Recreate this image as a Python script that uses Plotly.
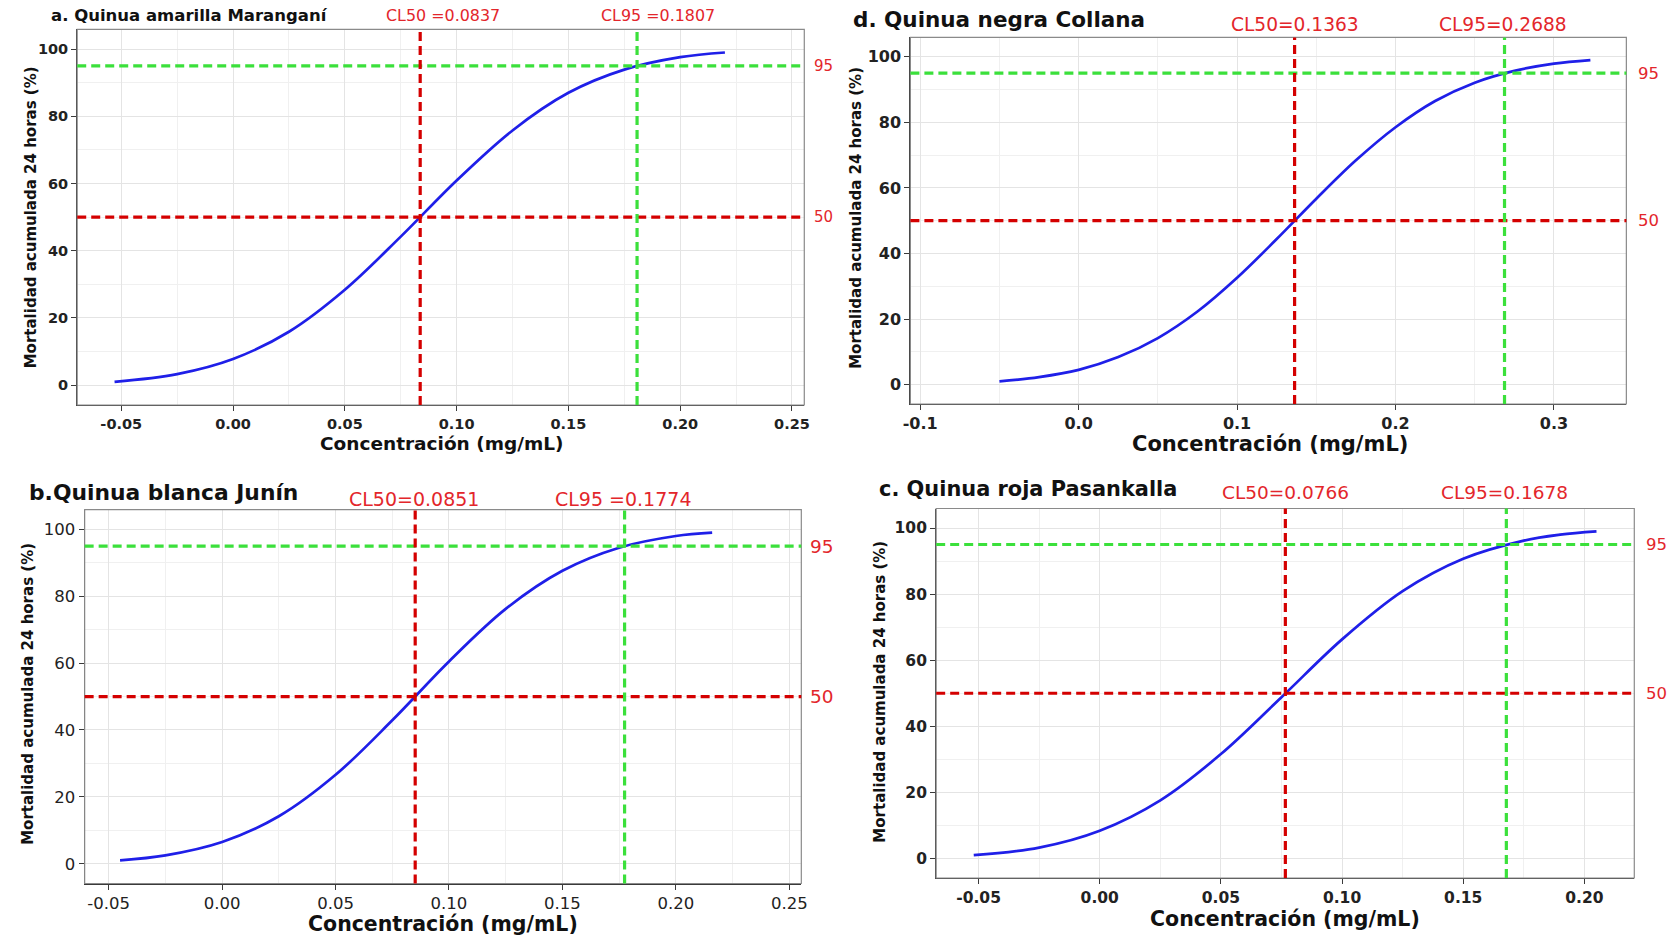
import plotly.graph_objects as go

W, H = 1675, 938

# ---------------- data ----------------
panel_ids = ["a", "d", "b", "c"]
titles = ["a. Quinua amarilla Marangan\u00ed", "d. Quinua negra Collana",
          "b.Quinua blanca Jun\u00edn", "c. Quinua roja Pasankalla"]
cl50 = [0.0837, 0.1363, 0.0851, 0.0766]
cl95 = [0.1807, 0.2688, 0.1774, 0.1678]
cl50_labels = ["CL50 =0.0837", "CL50=0.1363", "CL50=0.0851", "CL50=0.0766"]
cl95_labels = ["CL95 =0.1807", "CL95=0.2688", "CL95 =0.1774", "CL95=0.1678"]
level50 = 50
level95 = 95

conc_a = [-0.053, -0.025, 0.000, 0.025, 0.050, 0.075, 0.100, 0.125, 0.150, 0.175, 0.200, 0.220]
mort_a = [1.0, 3.3, 7.8, 15.9, 28.4, 44.2, 60.9, 75.8, 87.0, 93.9, 97.6, 99.0]

conc_d = [-0.050, -0.025, 0.000, 0.025, 0.050, 0.075, 0.100, 0.125, 0.150, 0.175, 0.200, 0.225, 0.250, 0.275, 0.300, 0.323]
mort_d = [1.0, 2.3, 4.5, 8.4, 14.2, 22.3, 32.6, 44.4, 56.7, 68.4, 78.5, 86.5, 92.1, 95.7, 97.9, 99.0]

conc_b = [-0.045, -0.025, 0.000, 0.025, 0.050, 0.075, 0.100, 0.125, 0.150, 0.175, 0.200, 0.216]
mort_b = [1.0, 2.5, 6.5, 14.2, 26.6, 42.9, 60.5, 76.2, 87.6, 94.5, 98.0, 99.0]

conc_c = [-0.052, -0.025, 0.000, 0.025, 0.050, 0.075, 0.100, 0.125, 0.150, 0.175, 0.190, 0.205]
mort_c = [1.0, 3.3, 8.4, 17.6, 31.6, 48.8, 66.3, 80.9, 90.7, 96.2, 98.0, 99.0]

concs = [conc_a, conc_d, conc_b, conc_c]
morts = [mort_a, mort_d, mort_b, mort_c]

x_ticks_a = [-0.05, 0.00, 0.05, 0.10, 0.15, 0.20, 0.25]
x_labels_a = ["-0.05", "0.00", "0.05", "0.10", "0.15", "0.20", "0.25"]
x_ticks_d = [-0.1, 0.0, 0.1, 0.2, 0.3]
x_labels_d = ["-0.1", "0.0", "0.1", "0.2", "0.3"]
x_ticks_b = [-0.05, 0.00, 0.05, 0.10, 0.15, 0.20, 0.25]
x_labels_b = ["-0.05", "0.00", "0.05", "0.10", "0.15", "0.20", "0.25"]
x_ticks_c = [-0.05, 0.00, 0.05, 0.10, 0.15, 0.20]
x_labels_c = ["-0.05", "0.00", "0.05", "0.10", "0.15", "0.20"]
x_ticks = [x_ticks_a, x_ticks_d, x_ticks_b, x_ticks_c]
x_labels = [x_labels_a, x_labels_d, x_labels_b, x_labels_c]
y_ticks = [0, 20, 40, 60, 80, 100]
y_labels = ["0", "20", "40", "60", "80", "100"]

x_title = "Concentraci\u00f3n (mg/mL)"
y_title = "Mortalidad acumulada 24 horas (%)"

# ---------------- layout / style (page pixel positions) ----------------
boxes = [(69.8, 803, 29.3, 405), (910, 1632, 37.4, 404),
         (77.3, 800, 509.6, 883.5), (936, 1640, 508.5, 878)]
x_ranges = [(-0.0697, 0.2555), (-0.1062, 0.3457), (-0.0606, 0.2553), (-0.0675, 0.2206)]
y_range = (-5.9, 105.9)
x_minor = [0.025, 0.05, 0.025, 0.025]
tick_size = [14.5, 16, 16.5, 15.5]
tick_weight = ["bold", "bold", "normal", "bold"]
title_size = [16.5, 21.5, 21.8, 20.9]
xtitle_size = [18.5, 21, 20.5, 20.5]
cl_size = [15.9, 18.6, 19, 18.5]
lvl_size = [15, 16.5, 18.5, 16.5]

title_pos = [(41.7, 15), (850, 19), (18.8, 492.5), (876, 489)]
ytitle_pos = [(23.5, 217), (855, 218), (20, 694), (879, 692)]
xtitle_pos = [(437.5, 444), (1273, 444), (438.5, 924), (1288, 919)]
cl50_pos = [(438.4, 15.3), (1298, 24.6), (409.7, 499), (1288, 492.5)]
cl95_pos = [(655.3, 15.3), (1508, 24.6), (620, 499), (1509, 492.5)]
lvl_x = [822.6, 1654, 820.5, 1662]

RED_LINE = "#D40000"
GREEN_LINE = "#3BE03B"
RED_TEXT = "#E3262B"
BLUE = "#1F1FE8"
FONT = "DejaVu Sans"


def px(x):
    return x / W


def py(y):
    return 1 - y / H


fig = go.Figure()
annotations = []
shapes = []

for i in range(4):
    n = "" if i == 0 else str(i + 1)
    xa, ya = "x" + n, "y" + n
    left, right, top, bottom = boxes[i]

    fig.add_trace(go.Scatter(
        x=concs[i], y=morts[i], mode="lines", xaxis=xa, yaxis=ya,
        line=dict(color=BLUE, width=2.7, shape="spline", smoothing=1.0),
        showlegend=False, hoverinfo="x+y"))

    axis_common = dict(showline=True, linecolor="#3a3a3a", linewidth=1.3,
                       ticks="outside", ticklen=5, tickcolor="#3a3a3a",
                       showgrid=True, gridcolor="#E4E4E4", gridwidth=1,
                       zeroline=False,
                       tickfont=dict(family=FONT, size=tick_size[i], color="#222",
                                     weight=tick_weight[i]))
    fig.update_layout(**{
        ("xaxis" + n): dict(domain=[px(left), px(right)], range=list(x_ranges[i]),
                            anchor=ya, tickvals=x_ticks[i], ticktext=x_labels[i],
                            minor=dict(dtick=x_minor[i], tick0=0, showgrid=True,
                                       gridcolor="#F0F0F0"),
                            **axis_common),
        ("yaxis" + n): dict(domain=[py(bottom), py(top)], range=list(y_range),
                            anchor=xa, tickvals=y_ticks, ticktext=y_labels,
                            minor=dict(dtick=10, tick0=0, showgrid=True,
                                       gridcolor="#F0F0F0"),
                            **axis_common),
    })

    # panel border
    shapes.append(dict(type="rect", xref=xa + " domain", yref=ya + " domain",
                       x0=0, x1=1, y0=0, y1=1, line=dict(color="#8a8a8a", width=1.2),
                       layer="above"))
    # reference lines
    dash = "9px,5px"
    shapes.append(dict(type="line", xref=xa + " domain", yref=ya, x0=0, x1=1,
                       y0=level50, y1=level50,
                       line=dict(color=RED_LINE, width=3.2, dash=dash)))
    shapes.append(dict(type="line", xref=xa + " domain", yref=ya, x0=0, x1=1,
                       y0=level95, y1=level95,
                       line=dict(color=GREEN_LINE, width=3.2, dash=dash)))
    shapes.append(dict(type="line", xref=xa, yref=ya + " domain", x0=cl50[i], x1=cl50[i],
                       y0=0, y1=1, line=dict(color=RED_LINE, width=3.2, dash=dash)))
    shapes.append(dict(type="line", xref=xa, yref=ya + " domain", x0=cl95[i], x1=cl95[i],
                       y0=0, y1=1, line=dict(color=GREEN_LINE, width=3.2, dash=dash)))

    # texts
    tx, ty = title_pos[i]
    annotations.append(dict(text=titles[i], x=px(tx), y=py(ty), xref="paper", yref="paper",
                            xanchor="left", yanchor="middle", showarrow=False,
                            font=dict(family=FONT, size=title_size[i], color="#111",
                                      weight="bold")))
    yx, yy = ytitle_pos[i]
    annotations.append(dict(text=y_title, x=px(yx), y=py(yy), xref="paper", yref="paper",
                            xanchor="center", yanchor="middle", textangle=-90,
                            showarrow=False,
                            font=dict(family=FONT, size=15, color="#111", weight="bold")))
    xx, xy = xtitle_pos[i]
    annotations.append(dict(text=x_title, x=px(xx), y=py(xy), xref="paper", yref="paper",
                            xanchor="center", yanchor="middle", showarrow=False,
                            font=dict(family=FONT, size=xtitle_size[i], color="#111",
                                      weight="bold")))
    for (lx, ly), lab in ((cl50_pos[i], cl50_labels[i]), (cl95_pos[i], cl95_labels[i])):
        annotations.append(dict(text=lab, x=px(lx), y=py(ly), xref="paper", yref="paper",
                                xanchor="center", yanchor="middle", showarrow=False,
                                font=dict(family=FONT, size=cl_size[i], color=RED_TEXT)))
    for lvl in (level95, level50):
        annotations.append(dict(text=str(lvl), x=px(lvl_x[i]), y=lvl, xref="paper", yref=ya,
                                xanchor="center", yanchor="middle", showarrow=False,
                                font=dict(family=FONT, size=lvl_size[i], color=RED_TEXT)))

fig.update_layout(width=W, height=H, margin=dict(l=0, r=0, t=0, b=0),
                  paper_bgcolor="white", plot_bgcolor="white",
                  annotations=annotations, shapes=shapes, showlegend=False)

# remove the browser's default 8px body margin so the figure fills the window exactly
fig.write_html("out.html", config={"displayModeBar": False},
               post_script="document.body.style.margin='0';"
                           "document.body.style.overflow='hidden';")
